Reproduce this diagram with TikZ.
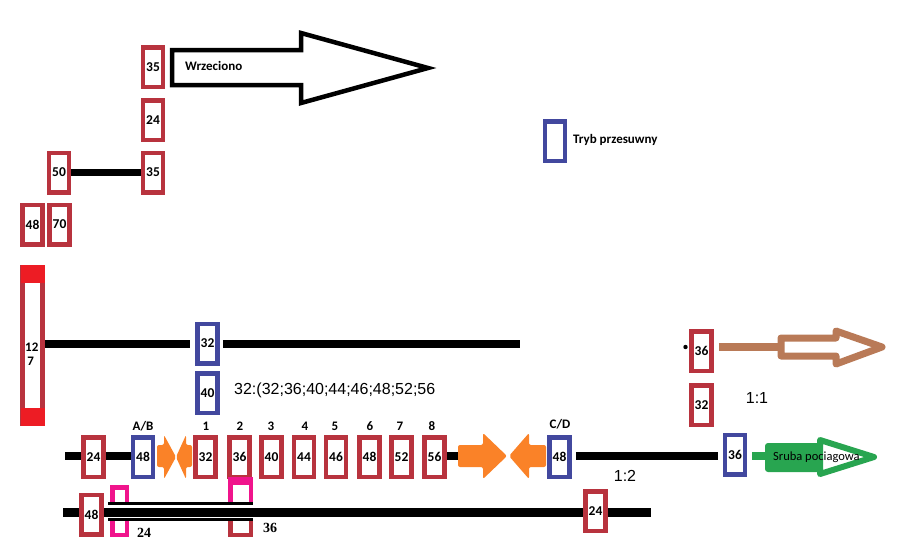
\documentclass[tikz,border=0pt]{standalone}
\usepackage{fontspec}
\setmainfont{Carlito}
\newfontfamily\arialf{Liberation Sans}
\newfontfamily\seriff{Liberation Serif}
\definecolor{gearred}{RGB}{184,51,62}
\definecolor{brightred}{RGB}{237,28,36}
\definecolor{slideblue}{RGB}{66,72,158}
\definecolor{magentac}{RGB}{240,20,140}
\definecolor{orangec}{RGB}{250,130,40}
\definecolor{greenc}{RGB}{40,165,80}
\definecolor{brownc}{RGB}{185,122,87}
\begin{document}
\begin{tikzpicture}[x=1pt,y=-1pt,
  gear/.style={draw=gearred, line width=4.5pt, fill=white, minimum width=20pt, minimum height=39.5pt, inner sep=0pt, font=\bfseries\fontsize{13.5}{15}\selectfont},
  slide/.style={gear, draw=slideblue},
  shaft/.style={line width=8pt, black},
  lbl/.style={font=\bfseries\fontsize{13}{15}\selectfont, inner sep=0pt},
  ratio/.style={font=\arialf\fontsize{16}{18}\selectfont, inner sep=0pt},
  orangearrow/.style={fill=orangec, rounded corners=2pt},
  thinline/.style={line width=3pt, black}]
\useasboundingbox (0,0) rectangle (899,550);

% ---- spindle group
\node[gear] (r35a) at (153,67) {35};
\node[gear] (r24a) at (153,120) {24};
\node[gear] (r35b) at (153,172.5) {35};
\node[gear] (r50) at (59,172.5) {50};
\node[gear] (r48a) at (32.5,224.5) {48};
\node[gear] (r70) at (59.5,224.5) {70};
\draw[line width=7pt] (r50.east) -- (r35b.west);

\draw[line width=4.5pt, fill=white, line join=miter] (172,50) -- (301,50) -- (301,33) -- (428,68) -- (301,103) -- (301,85) -- (172,85) -- cycle;
\node[lbl, anchor=west] (wrz) at (185,66) {Wrzeciono};

% ---- legend
\node[slide] (tryb) at (555,141) {};
\node[lbl, anchor=west] (trybt) at (573,140) {Tryb przesuwny};

% ---- 127 shaft
\node[gear, minimum height=156.5pt] (r127) at (32.5,345.5) {};
\fill[brightred] (20.5,265) rectangle (44.5,283);
\fill[brightred] (20.5,408) rectangle (44.5,426);
\node[lbl, align=left, anchor=west] (t127) at (25,354) {12\\[-1pt]\,7};
\node[slide] (b32) at (207.5,343.5) {32};
\node[slide] (b40) at (207.5,393) {40};
\coordinate (e127) at (520,344);
\draw[shaft] (r127.east |- 0,344) -- ([xshift=-5pt]b32.west |- 0,344);
\draw[shaft] ([xshift=3pt]b32.east |- 0,344) -- (e127);
\node[ratio, anchor=west] (list) at (234,390) {32:(32;36;40;44;46;48;52;56};

% ---- gearbox row
\coordinate (s3) at (65,456);
\node[gear] (r24b) at (93.5,457) {24};
\node[slide] (bAB) at (143,457) {48};
\node[gear] (g32) at (205.5,457) {32};
\node[gear] (g36) at (239.5,457) {36};
\node[gear] (g40) at (271.5,457) {40};
\node[gear] (g44) at (304,457) {44};
\node[gear] (g46) at (336,457) {46};
\node[gear] (g48) at (369.5,457) {48};
\node[gear] (g52) at (401.5,457) {52};
\node[gear] (g56) at (434.5,457) {56};
\node[slide] (bCD) at (559.5,457) {48};
\node[slide] (b36r) at (735,454.5) {36};
\coordinate (o1) at (460,456);
\draw[shaft] (s3) -- (r24b.west |- s3);
\draw[shaft] (r24b.east |- s3) -- (bAB.west |- s3);
\draw[shaft] (g56.east |- s3) -- (o1);
\draw[shaft] ([xshift=4pt]bCD.east |- s3) -- ([xshift=-5pt]b36r.west |- s3);

\node[lbl] (lAB) at (143,426) {A/B};
\node[lbl] (l1) at (206,426) {1};
\node[lbl] (l2) at (240,426) {2};
\node[lbl] (l3) at (271,426) {3};
\node[lbl] (l4) at (305,426) {4};
\node[lbl] (l5) at (335,426) {5};
\node[lbl] (l6) at (370,426) {6};
\node[lbl] (l7) at (400,426) {7};
\node[lbl] (l8) at (432,426) {8};
\node[lbl] (lCD) at (560,424) {C/D};

% orange clutch arrows
\fill[orangearrow] (157,445) -- (164,445) -- (164,435) -- (176,457) -- (164,479) -- (164,467) -- (157,467) -- cycle;
\fill[orangearrow] (192,445) -- (186,445) -- (186,435) -- (176,457) -- (186,479) -- (186,467) -- (192,467) -- cycle;
\fill[orangearrow] (458,445) -- (483,445) -- (483,433) -- (507,456) -- (483,479) -- (483,467) -- (458,467) -- cycle;
\fill[orangearrow] (546,445) -- (529,445) -- (529,433) -- (509,456) -- (529,479) -- (529,467) -- (546,467) -- cycle;

\node[ratio] (r12) at (625,476) {1:2};

% lead screw arrow
\draw[line width=8pt, greenc] ([xshift=5pt]b36r.east |- 0,456) -- (772,456);
\draw[greenc, line width=6pt, fill=white, line join=round] (768,446) -- (820,446) -- (820,440) -- (874,457) -- (820,474) -- (820,469) -- (768,469) -- cycle;
\fill[greenc, rounded corners=2pt] (767,444) rectangle (823,471);
\node[font=\fontsize{12.5}{14}\selectfont, anchor=west, inner sep=0pt] (sruba) at (773,457) {Sruba pociagowa};

% ---- right 36/32 pair
\node[gear] (r36r) at (701.5,351) {36};
\node[gear] (r32r) at (701.5,405) {32};
\fill (685.5,347) circle (2.2pt);
\node[ratio] (r11) at (757,398) {1:1};
\draw[line width=8pt, brownc] ([xshift=5pt]r36r.east |- 0,346.5) -- (782,346.5);
\draw[brownc, line width=7pt, fill=white, line join=round] (781,338) -- (836,338) -- (836,331) -- (882,347) -- (836,364) -- (836,356) -- (781,356) -- cycle;

% ---- bottom shaft with sleeve
\draw[magentac, line width=4.5pt] (112.25,503) |- (126.75,487.25) -- (126.75,503);
\draw[magentac, line width=4.5pt] (112.25,518) |- (126.75,534.75) -- (126.75,518);
\draw[magentac, line width=4.5pt] (230.25,503) |- (250.75,480) -- (250.75,503);
\fill[magentac] (228,477) rectangle (253,485);
\draw[gearred, line width=4.5pt] (230.25,518) |- (250.75,534.75) -- (250.75,518);
\coordinate (b0) at (63,512);
\coordinate (b1) at (651,512);
\draw[line width=9pt] (b0) -- (b1);
\draw[thinline] (108,503) -- (253,503);
\draw[thinline] (108,519.5) -- (253,519.5);
\node[gear] (r48b) at (91.5,514.5) {48};
\node[gear] (r24c) at (595.5,511) {24};
\node[font=\seriff\bfseries\fontsize{14}{16}\selectfont, inner sep=0pt] (t24) at (144,533) {24};
\node[font=\seriff\bfseries\fontsize{14}{16}\selectfont, inner sep=0pt] (t36) at (270,528) {36};
\end{tikzpicture}
\end{document}
